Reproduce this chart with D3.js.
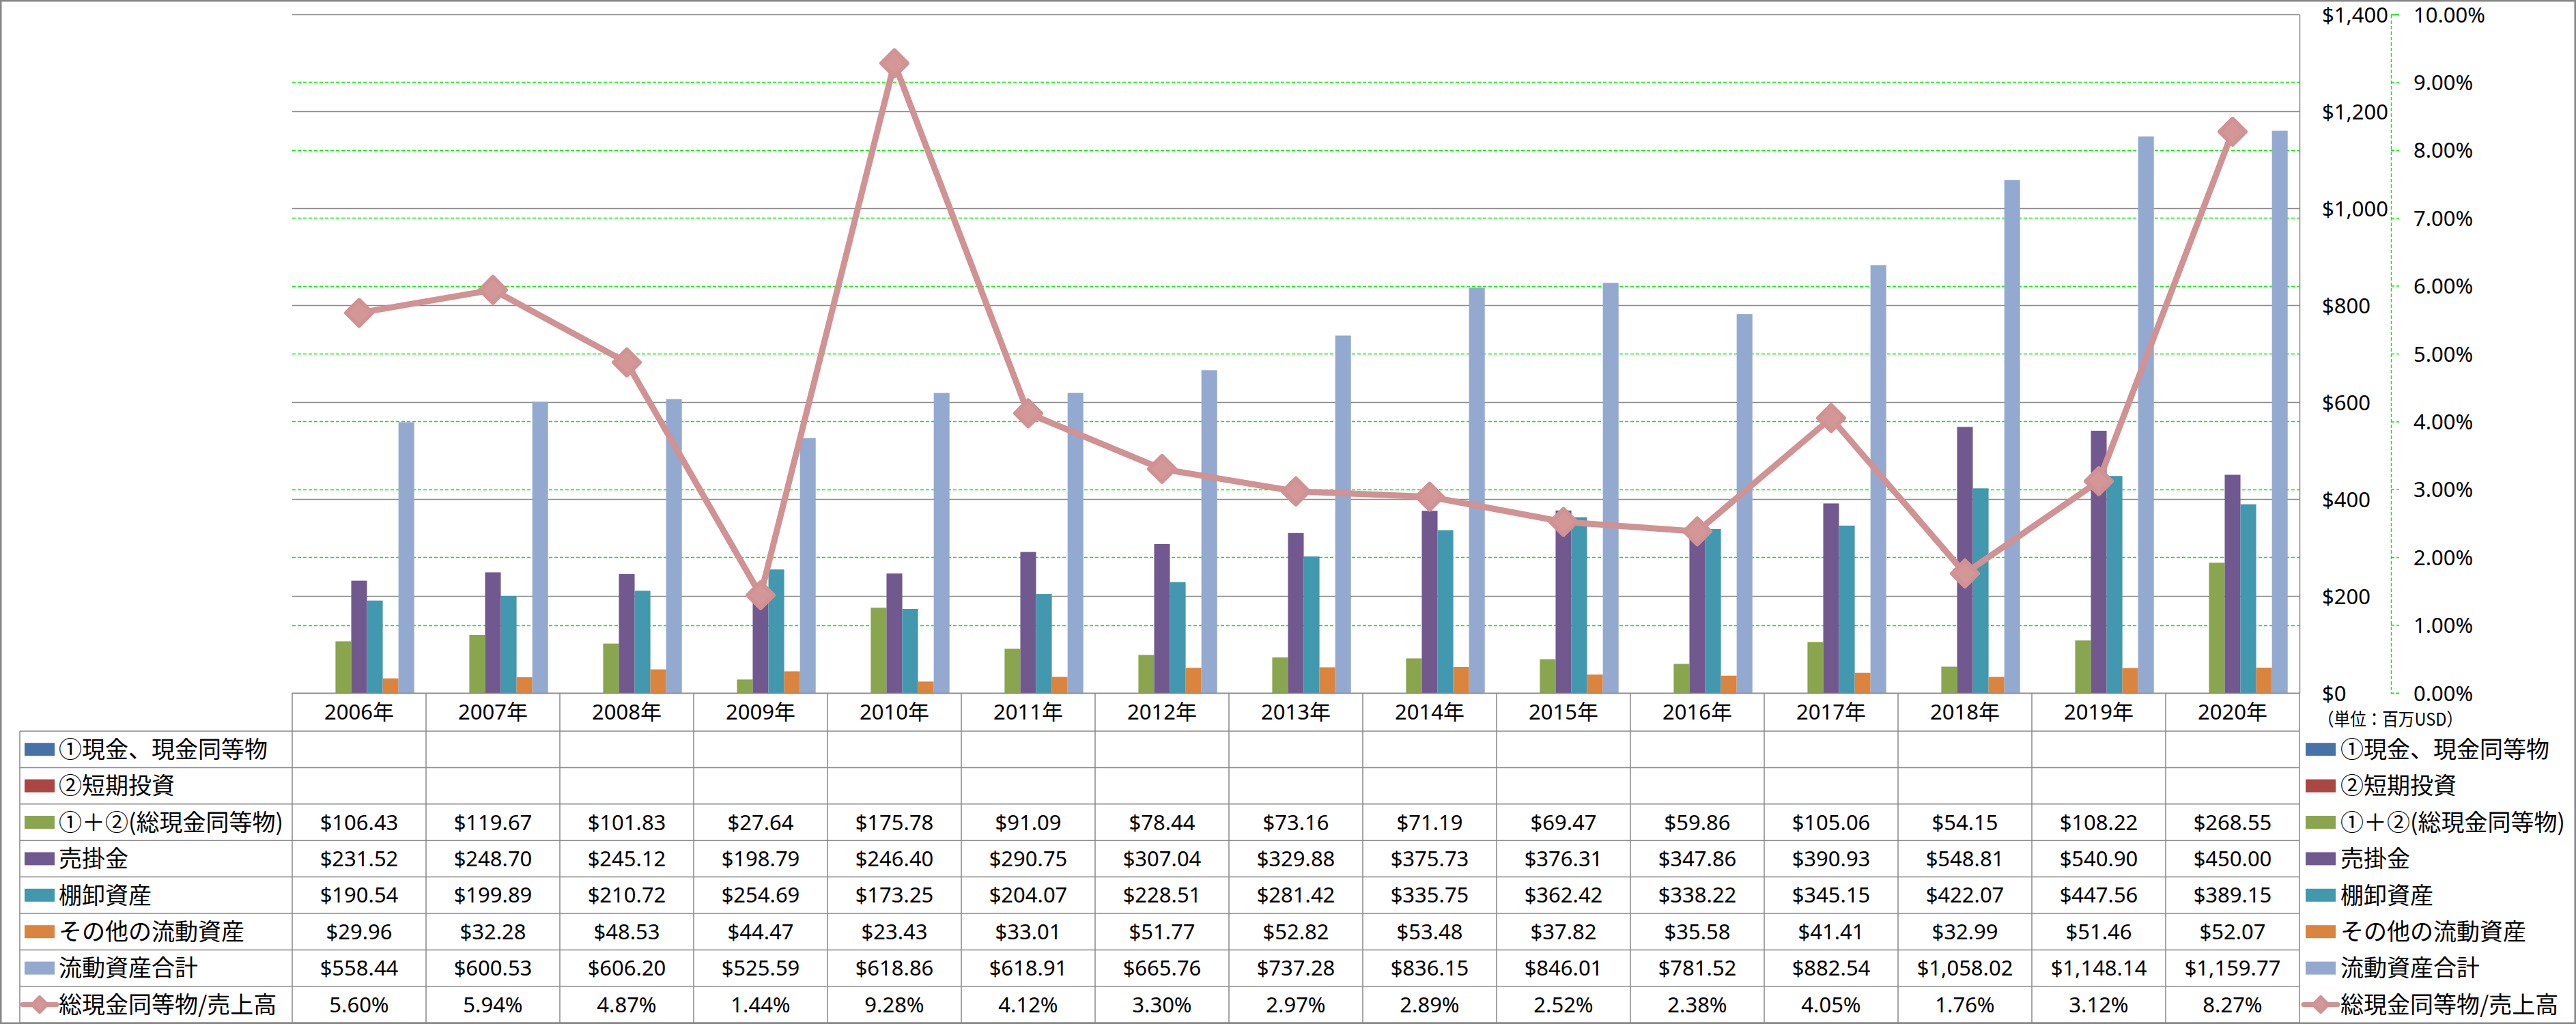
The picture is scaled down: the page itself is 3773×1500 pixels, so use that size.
<!DOCTYPE html>
<html>
<head>
<meta charset="utf-8">
<script src="https://cdn.jsdelivr.net/npm/d3@7"></script>
<style>
html,body{margin:0;padding:0;background:#fff;}
svg{display:block;}
</style>
</head>
<body>
<svg id="chart" width="3773" height="1500"></svg>
<script>
// ---------- DATA ----------
const categories = ["2006年","2007年","2008年","2009年","2010年","2011年","2012年","2013年","2014年","2015年","2016年","2017年","2018年","2019年","2020年"];
const cashEquivalents = [null,null,null,null,null,null,null,null,null,null,null,null,null,null,null];
const shortTermInvestments = [null,null,null,null,null,null,null,null,null,null,null,null,null,null,null];
const totalCash = [106.43,119.67,101.83,27.64,175.78,91.09,78.44,73.16,71.19,69.47,59.86,105.06,54.15,108.22,268.55];
const receivables = [231.52,248.70,245.12,198.79,246.40,290.75,307.04,329.88,375.73,376.31,347.86,390.93,548.81,540.90,450.00];
const inventory = [190.54,199.89,210.72,254.69,173.25,204.07,228.51,281.42,335.75,362.42,338.22,345.15,422.07,447.56,389.15];
const otherCurrentAssets = [29.96,32.28,48.53,44.47,23.43,33.01,51.77,52.82,53.48,37.82,35.58,41.41,32.99,51.46,52.07];
const totalCurrentAssets = [558.44,600.53,606.20,525.59,618.86,618.91,665.76,737.28,836.15,846.01,781.52,882.54,1058.02,1148.14,1159.77];
const cashToSales = [5.60,5.94,4.87,1.44,9.28,4.12,3.30,2.97,2.89,2.52,2.38,4.05,1.76,3.12,8.27];

const seriesNames = ["①現金、現金同等物","②短期投資","①＋②(総現金同等物)","売掛金","棚卸資産","その他の流動資産","流動資産合計"];
const lineName = "総現金同等物/売上高";
const primaryTicks = [0,200,400,600,800,1000,1200,1400];
const secondaryTicks = [0,1,2,3,4,5,6,7,8,9,10];
const unitLabel = "（単位：百万USD）";

// ---------- STYLE ----------
const colors = ["#4672A8","#AA4643","#89A54E","#71588F","#4198AF","#DB843D","#93A9CF"];
const lineColor = "#D09292";
const markerFill = "#D49797";
const gridGray = "#898989";
const gridGreen = "#00EE00";
const numFont = "'Noto Sans','Noto Sans CJK JP',sans-serif";
const jpFont = "'Noto Sans CJK JP','Noto Sans',sans-serif";

const barData = [cashEquivalents, shortTermInvestments, totalCash, receivables, inventory, otherCurrentAssets, totalCurrentAssets];
const series = seriesNames.map((n,i)=>({name:n, color:colors[i], values:barData[i]}));

// ---------- LAYOUT ----------
const W = 3773, H = 1500;
const plotL = 428, plotR = 3368, plotT = 21, plotB = 1015;
const headerB = 1071, rowH = 53.4, tableL = 29;
const secAxisX = 3502;

const svg = d3.select("#chart");

const x = d3.scaleBand().domain(categories).range([plotL, plotR]).padding(0);
const xs = d3.scaleBand().domain(d3.range(series.length)).range([0, x.bandwidth()]).paddingInner(0).paddingOuter(0.75);
const y = d3.scaleLinear().domain([0,1400]).range([plotB, plotT]);
const y2 = d3.scaleLinear().domain([0,10]).range([plotB, plotT]);

// background
svg.append("rect").attr("x",0).attr("y",0).attr("width",W).attr("height",H).attr("fill","#fff");

// secondary gridlines (green dashed)
svg.append("g").selectAll("line").data(secondaryTicks.filter(t=>t>0 && t<10)).join("line")
  .attr("x1",plotL).attr("x2",plotR)
  .attr("y1",d=>Math.round(y2(d))+0.5).attr("y2",d=>Math.round(y2(d))+0.5)
  .attr("stroke",gridGreen).attr("stroke-width",1.5).attr("stroke-dasharray","5,3");

// primary gridlines (gray)
svg.append("g").selectAll("line").data(primaryTicks).join("line")
  .attr("x1",plotL).attr("x2",plotR)
  .attr("y1",d=>Math.round(y(d))+0.5).attr("y2",d=>Math.round(y(d))+0.5)
  .attr("stroke",gridGray).attr("stroke-width",1.5);

// bars
const barG = svg.append("g");
series.forEach((s,si)=>{
  barG.append("g").selectAll("rect")
    .data(s.values.map((v,i)=>({v, c:categories[i]})).filter(d=>d.v!=null))
    .join("rect")
    .attr("x",d=>x(d.c)+xs(si))
    .attr("width",xs.bandwidth())
    .attr("y",d=>y(d.v))
    .attr("height",d=>y(0)-y(d.v))
    .attr("fill",s.color);
});

// line series
const lineGen = d3.line().x((d,i)=>x(categories[i])+x.bandwidth()/2).y(d=>y2(d));
svg.append("path").datum(cashToSales).attr("d",lineGen)
  .attr("fill","none").attr("stroke",lineColor).attr("stroke-width",9).attr("stroke-linejoin","round");
const diamond = (r)=>`M0,${-r}L${r},0L0,${r}L${-r},0Z`;
svg.append("g").selectAll("path").data(cashToSales).join("path")
  .attr("transform",(d,i)=>`translate(${x(categories[i])+x.bandwidth()/2},${y2(d)})`)
  .attr("d",diamond(19))
  .attr("fill",markerFill).attr("stroke",lineColor).attr("stroke-width",6).attr("stroke-linejoin","round");

// primary axis (right side of plot)
const yAxis = d3.axisRight(y).tickValues(primaryTicks).tickSize(0).tickPadding(33)
  .tickFormat(d=>"$"+d3.format(",")(d));
const yAxisG = svg.append("g").attr("transform",`translate(${plotR},0)`).call(yAxis);
yAxisG.select(".domain").attr("stroke",gridGray).attr("stroke-width",1.5);
yAxisG.selectAll("text").attr("font-family",numFont).attr("font-size",31).attr("fill","#000")
  .attr("text-anchor","start").attr("dy","0.36em");

// secondary axis
const y2Axis = d3.axisRight(y2).tickValues(secondaryTicks).tickSize(12).tickPadding(21)
  .tickFormat(d=>d.toFixed(2)+"%");
const y2AxisG = svg.append("g").attr("transform",`translate(${secAxisX},0)`).call(y2Axis);
y2AxisG.select(".domain").attr("stroke",gridGreen).attr("stroke-width",1.5).attr("stroke-dasharray","5,3");
y2AxisG.selectAll(".tick line").attr("stroke",gridGreen).attr("stroke-width",1.5).attr("stroke-dasharray","5,3");
y2AxisG.selectAll("text").attr("font-family",numFont).attr("font-size",31).attr("fill","#000")
  .attr("text-anchor","start").attr("dy","0.36em");

// ---------- DATA TABLE ----------
const tbl = svg.append("g");
const rows = series.map(s=>({name:s.name, color:s.color, values:s.values, type:"bar"}))
  .concat([{name:lineName, color:lineColor, values:cashToSales, type:"line"}]);
const rowTop = i => headerB + i*rowH;
const tableB = headerB + rows.length*rowH;

// horizontal lines
tbl.append("line").attr("x1",plotL).attr("x2",plotR).attr("y1",plotB+0.5).attr("y2",plotB+0.5)
  .attr("stroke",gridGray).attr("stroke-width",1.5);
tbl.selectAll("line.h").data(d3.range(rows.length+1)).join("line").attr("class","h")
  .attr("x1",tableL).attr("x2",plotR)
  .attr("y1",d=>rowTop(d)).attr("y2",d=>rowTop(d))
  .attr("stroke",gridGray).attr("stroke-width",1.5);
// vertical lines
const vx = categories.map(c=>x(c)).concat([plotR]);
tbl.selectAll("line.v").data(vx).join("line").attr("class","v")
  .attr("x1",d=>d).attr("x2",d=>d).attr("y1",plotB).attr("y2",tableB)
  .attr("stroke",gridGray).attr("stroke-width",1.5);
tbl.append("line").attr("x1",tableL).attr("x2",tableL).attr("y1",headerB).attr("y2",tableB)
  .attr("stroke",gridGray).attr("stroke-width",1.5);

// header (categories)
tbl.selectAll("text.cat").data(categories).join("text").attr("class","cat")
  .attr("x",d=>x(d)+x.bandwidth()/2).attr("y",(plotB+headerB)/2)
  .attr("dy","0.36em").attr("text-anchor","middle")
  .attr("font-family",numFont).attr("font-size",31).attr("fill","#000").text(d=>d);

// legend key helper
function drawKey(g, r, cx, cy){
  if(r.type==="bar"){
    g.append("rect").attr("x",cx-22).attr("y",cy-9.5).attr("width",44).attr("height",19).attr("fill",r.color);
  } else {
    g.append("line").attr("x1",cx-25).attr("x2",cx+25).attr("y1",cy).attr("y2",cy)
      .attr("stroke",r.color).attr("stroke-width",7).attr("stroke-linecap","round");
    g.append("path").attr("transform",`translate(${cx},${cy})`).attr("d",diamond(11))
      .attr("fill",markerFill).attr("stroke",lineColor).attr("stroke-width",5).attr("stroke-linejoin","round");
  }
}

rows.forEach((r,i)=>{
  const cy = rowTop(i) + rowH/2;
  drawKey(tbl, r, 58, cy);
  tbl.append("text").attr("x",86).attr("y",cy).attr("dy","0.36em")
    .attr("font-family",jpFont).attr("font-size",34).attr("fill","#000").text(r.name);
  tbl.append("g").selectAll("text").data(r.values.map((v,j)=>({v,c:categories[j]})).filter(d=>d.v!=null)).join("text")
    .attr("x",d=>x(d.c)+x.bandwidth()/2).attr("y",cy).attr("dy","0.36em").attr("text-anchor","middle")
    .attr("font-family",numFont).attr("font-size",31).attr("fill","#000")
    .text(d=> r.type==="line" ? d.v.toFixed(2)+"%" : "$"+d3.format(",.2f")(d.v));
});

// ---------- RIGHT LEGEND ----------
const leg = svg.append("g");
leg.append("text").attr("x",3395).attr("y",1054).attr("dy","0.36em")
  .attr("font-family",jpFont).attr("font-size",26).attr("fill","#000")
  .attr("textLength",212).attr("lengthAdjust","spacingAndGlyphs").text(unitLabel);
rows.forEach((r,i)=>{
  const cy = rowTop(i) + rowH/2;
  drawKey(leg, r, 3399, cy);
  leg.append("text").attr("x",3428).attr("y",cy).attr("dy","0.36em")
    .attr("font-family",jpFont).attr("font-size",34).attr("fill","#000").text(r.name);
});

// outer border
svg.append("rect").attr("x",1.25).attr("y",1.25).attr("width",W-2.5).attr("height",H-2.5)
  .attr("fill","none").attr("stroke","#878787").attr("stroke-width",2.5);
</script>
</body>
</html>
